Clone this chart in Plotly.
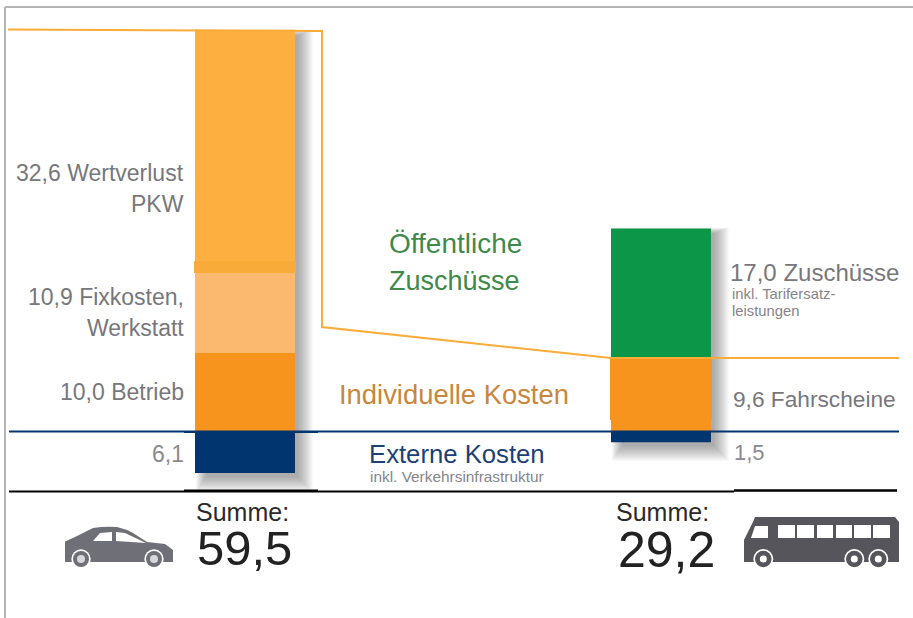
import re
import plotly.graph_objects as go

W, H = 913, 618
FONT = "Liberation Sans"

# Drawn heights (the original's bars are only roughly to scale)
categories = ["PKW", "ÖPNV"]
segment_names = ["Externe Kosten", "Betrieb / Fahrscheine", "Fixkosten / Zuschüsse", "Wertverlust"]
externe = [-5.6, -1.5]
betrieb_fahrscheine = [10.4, 9.7]
fixkosten_zuschuesse = [10.7, 17.3]
wertverlust = [32.4, None]
segment_values = [externe, betrieb_fahrscheine, fixkosten_zuschuesse, wertverlust]
car_colors = ["#00356f", "#f7941d", "#fbb970", "#fdb040"]
bus_colors = ["#00356f", "#f7941d", "#0c9648", "#fdb040"]

# Pixel grid of the picture
BASE_Y, UNIT = 431, 7.5
CENTER_A, CENTER_B, BAR_PX = 245, 661, 100
step = CENTER_B - CENTER_A

def X(v): return v / W
def Y(v): return 1 - v / H

fig = go.Figure()
for name, vals, ca, cb in zip(segment_names, segment_values, car_colors, bus_colors):
    fig.add_trace(go.Bar(x=categories, y=vals, name=name, width=BAR_PX / step,
                         marker=dict(color=[ca, cb], line=dict(width=0)),
                         showlegend=False, hoverinfo="skip"))

shapes = []
def rect(x0, y0, x1, y1, color, layer="above", opacity=1):
    shapes.append(dict(type="rect", xref="paper", yref="paper", x0=X(x0), x1=X(x1), y0=Y(y0), y1=Y(y1),
                       fillcolor=color, opacity=opacity, line=dict(width=0), layer=layer))
def line(x0, y0, x1, y1, color, width):
    shapes.append(dict(type="line", xref="paper", yref="paper", x0=X(x0), x1=X(x1), y0=Y(y0), y1=Y(y1),
                       line=dict(color=color, width=width), layer="above"))
def path(d, color):
    def conv(m):
        return f"{X(float(m.group(1))):.5f},{Y(float(m.group(2))):.5f}"
    shapes.append(dict(type="path", xref="paper", yref="paper", path=re.sub(r"(-?[\d.]+),(-?[\d.]+)", conv, d),
                       fillcolor=color, line=dict(width=0), layer="above"))
def circle(cx, cy, r, color):
    shapes.append(dict(type="circle", xref="paper", yref="paper", x0=X(cx - r), x1=X(cx + r),
                       y0=Y(cy + r), y1=Y(cy - r), fillcolor=color, line=dict(width=0), layer="above"))

# soft drop shadows
for (x0, y0, x1, y1) in [(195, 30, 295, 473), (611, 228, 711, 442)]:
    for i in range(16, 0, -1):
        rect(x0 + 12 - i * .7, y0 + 6 - i * .4, x1 + 2 + i, y1 + 3 + i, "#303040", "below", 0.03)

# frame
line(5, 7, 913, 7, "#6a6a6a", 1)
line(5, 7, 5, 618, "#b4b4b4", 2)

# separators
line(9, 431.5, 899, 431.5, "#00356f", 2)
line(184, 432, 318, 432, "#00356f", 2)
line(9, 491.5, 734, 491.5, "#000000", 2)
line(184, 490.5, 318, 490.5, "#000000", 2)
line(734, 490.5, 897, 490.5, "#000000", 2.5)

# darker band at the foot of the Wertverlust segment, wider bus segment
rect(194, 261, 296, 273, "#f9ab3a")
rect(610, 358, 712, 420, "#f7941d")

# orange guide line
shapes.append(dict(type="path", xref="paper", yref="paper",
                   path=f"M {X(8)},{Y(29.5)} L {X(322)},{Y(31)} L {X(322)},{Y(327)} L {X(611)},{Y(358)} L {X(899)},{Y(358)}",
                   line=dict(color="#fbab37", width=2), layer="above"))

# car icon
CAR = "#6f6f77"
path("M 65,562 L 65,541.5 L 75,537 L 93,528 Q 105,526 117,527 Q 126,529 133,533 L 147,542 L 165,544 L 173,550 L 173,562 Z", CAR)
path("M 93,541 L 100,533 L 112,532 L 112,541 Z", "#ffffff")
path("M 116,532 L 125,533 L 146,543 L 116,541 Z", "#ffffff")
for cx in (81, 154):
    circle(cx, 559, 9.7, "#ffffff"); circle(cx, 559, 8, CAR); circle(cx, 559, 4, "#d8d8dc")

# bus icon
BUS = "#55555b"
path("M 744,562 L 744,540 L 753,522 L 755,517 L 895,517 L 899,522 L 899,562 Z", BUS)
path("M 755,526 L 768,526 L 768,538 L 751,538 Z", "#ffffff")
for x0, x1 in [(778, 795), (797, 814), (817, 833), (836, 852), (854, 871), (873, 890)]:
    path(f"M {x0},525 L {x1},525 L {x1},538 L {x0},538 Z", "#ffffff")
for cx in (763.3, 854.3, 878.3):
    circle(cx, 559, 10, "#ffffff"); circle(cx, 559, 8.3, BUS); circle(cx, 559, 3.5, "#ffffff")

GREY = "#77777c"
LIGHT = "#85858a"
labels_right = [("32,6 Wertverlust", 173, 23), ("PKW", 204, 23), ("10,9 Fixkosten,", 297, 23),
                ("Werkstatt", 328, 23), ("10,0 Betrieb", 392, 23), ("6,1", 454, 23)]
labels_left = [
    ("Öffentliche", 387, 243, 28, "#3f8a4a"), ("Zuschüsse", 387, 281, 27, "#3f8a4a"),
    ("Individuelle Kosten", 337, 394, 27.4, "#c8873a"),
    ("Externe Kosten", 367, 454, 25.7, "#1c3f78"),
    ("inkl. Verkehrsinfrastruktur", 368, 476, 15.4, LIGHT),
    ("17,0 Zuschüsse", 728, 272, 24, GREY),
    ("inkl. Tarifersatz-", 730, 294, 14.8, LIGHT), ("leistungen", 730, 311, 14.8, LIGHT),
    ("9,6 Fahrscheine", 731, 399, 22.7, GREY), ("1,5", 732, 452, 22, "#8a8a8e"),
    ("Summe:", 194, 512, 25, "#2a2a2a"), ("59,5", 195, 548, 49, "#222222"),
    ("Summe:", 614, 512, 25, "#2a2a2a"), ("29,2", 616, 550, 50, "#222222"),
]
ann = []
for t, y, s in labels_right:
    ann.append(dict(text=t, xref="paper", yref="paper", x=X(186), y=Y(y), xanchor="right", yanchor="middle",
                    showarrow=False, font=dict(family=FONT, size=s, color=GREY if t != "6,1" else "#8a8a8e")))
for t, x, y, s, c in labels_left:
    ann.append(dict(text=t, xref="paper", yref="paper", x=X(x), y=Y(y), xanchor="left", yanchor="middle",
                    showarrow=False, font=dict(family=FONT, size=s, color=c)))

fig.update_layout(
    width=W, height=H, margin=dict(l=0, r=0, t=0, b=0), barmode="relative",
    paper_bgcolor="#ffffff", plot_bgcolor="rgba(0,0,0,0)", shapes=shapes, annotations=ann, showlegend=False,
    xaxis=dict(visible=False, type="category", categoryorder="array", categoryarray=categories,
               range=[-CENTER_A / step, (W - CENTER_A) / step]),
    yaxis=dict(visible=False, range=[-(H - BASE_Y) / UNIT, BASE_Y / UNIT]),
)
fig.write_html("out.html", config={"displayModeBar": False},
               post_script="document.body.style.margin='0';document.body.style.overflow='hidden';")
